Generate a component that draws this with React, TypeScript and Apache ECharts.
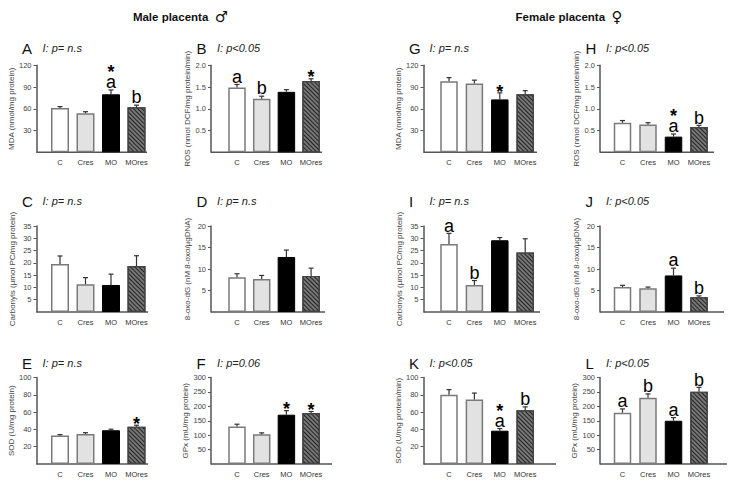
import React, { useEffect, useRef } from "react";
import * as echarts from "echarts";

// ---------- data ----------
const categories = ["C", "Cres", "MO", "MOres"];

const mdaMale = [61, 54, 80, 62];
const mdaMaleErr = [2, 2, 6, 3];
const mdaMaleMarks = ["", "", "*a", "b"];

const rosMale = [1.49, 1.23, 1.39, 1.64];
const rosMaleErr = [0.07, 0.06, 0.05, 0.05];
const rosMaleMarks = ["a", "b", "", "*"];

const carbMale = [19.5, 11.3, 11, 18.7];
const carbMaleErr = [3.3, 2.7, 4.4, 4.2];
const carbMaleMarks = ["", "", "", ""];

const oxoMale = [8.1, 7.7, 12.8, 8.4];
const oxoMaleErr = [0.8, 0.8, 1.6, 1.8];
const oxoMaleMarks = ["", "", "", ""];

const sodMale = [33, 34.7, 39, 43];
const sodMaleErr = [1, 1.5, 1.2, 1.8];
const sodMaleMarks = ["", "", "", "*"];

const gpxMale = [130, 103, 171, 177];
const gpxMaleErr = [8, 5, 14, 5];
const gpxMaleMarks = ["", "", "*", "*"];

const mdaFemale = [98, 95, 73, 80];
const mdaFemaleErr = [5, 4.5, 9, 5];
const mdaFemaleMarks = ["", "", "*", ""];

const rosFemale = [0.68, 0.64, 0.36, 0.58];
const rosFemaleErr = [0.05, 0.04, 0.06, 0.04];
const rosFemaleMarks = ["", "", "*a", "b"];

const carbFemale = [27.7, 11, 29.2, 24.2];
const carbFemaleErr = [4.3, 1.8, 1.1, 5.6];
const carbFemaleMarks = ["a", "b", "", ""];

const oxoFemale = [5.8, 5.5, 8.5, 3.45];
const oxoFemaleErr = [0.4, 0.3, 1.7, 0.3];
const oxoFemaleMarks = ["", "", "a", "b"];

const sodFemale = [80, 74.5, 38.5, 62];
const sodFemaleErr = [6, 7.5, 2.5, 4];
const sodFemaleMarks = ["", "", "*a", "b"];

const gpxFemale = [178, 230, 150, 251];
const gpxFemaleErr = [13, 13, 11, 15];
const gpxFemaleMarks = ["a", "b", "a", "b"];

const panels = [
  { id: "A", values: mdaMale, errors: mdaMaleErr, marks: mdaMaleMarks, max: 120, step: 30, yName: "MDA (nmol/mg protein)", stat: "I: p= n.s" },
  { id: "B", values: rosMale, errors: rosMaleErr, marks: rosMaleMarks, max: 2, step: 0.5, yName: "ROS (nmol DCF/mg protein/min)", stat: "I: p<0.05" },
  { id: "C", values: carbMale, errors: carbMaleErr, marks: carbMaleMarks, max: 35, step: 5, yName: "Carbonyls (µmol PC/mg protein)", stat: "I: p= n.s" },
  { id: "D", values: oxoMale, errors: oxoMaleErr, marks: oxoMaleMarks, max: 20, step: 5, yName: "8-oxo-dG (nM 8-oxo/µgDNA)", stat: "I: p= n.s" },
  { id: "E", values: sodMale, errors: sodMaleErr, marks: sodMaleMarks, max: 100, step: 20, yName: "SOD (U/mg protein)", stat: "I: p= n.s" },
  { id: "F", values: gpxMale, errors: gpxMaleErr, marks: gpxMaleMarks, max: 300, step: 50, yName: "GPx (mU/mg protein)", stat: "I: p=0.06" },
  { id: "G", values: mdaFemale, errors: mdaFemaleErr, marks: mdaFemaleMarks, max: 120, step: 30, yName: "MDA (nmol/mg protein)", stat: "I: p= n.s" },
  { id: "H", values: rosFemale, errors: rosFemaleErr, marks: rosFemaleMarks, max: 2, step: 0.5, yName: "ROS (nmol DCF/mg protein/min)", stat: "I: p<0.05" },
  { id: "I", values: carbFemale, errors: carbFemaleErr, marks: carbFemaleMarks, max: 35, step: 5, yName: "Carbonyls (µmol PC/mg protein)", stat: "I: p= n.s" },
  { id: "J", values: oxoFemale, errors: oxoFemaleErr, marks: oxoFemaleMarks, max: 20, step: 5, yName: "8-oxo-dG (nM 8-oxo/µgDNA)", stat: "I: p<0.05" },
  { id: "K", values: sodFemale, errors: sodFemaleErr, marks: sodFemaleMarks, max: 100, step: 20, yName: "SOD (U/mg protein/min)", stat: "I: p<0.05" },
  { id: "L", values: gpxFemale, errors: gpxFemaleErr, marks: gpxFemaleMarks, max: 300, step: 50, yName: "GPx (mU/mg protein)", stat: "I: p<0.05" },
];

const titleMale = "Male placenta";
const symbolMale = "♂";
const titleFemale = "Female placenta";
const symbolFemale = "♀";

// ---------- layout ----------
const panelPos: Record<string, [number, number]> = {
  A: [0, 0], B: [1, 0], C: [0, 1], D: [1, 1], E: [0, 2], F: [1, 2],
  G: [2, 0], H: [3, 0], I: [2, 1], J: [3, 1], K: [2, 2], L: [3, 2],
};
const colGeom = [
  { ax: 36.5, c0: 60, pitch: 25.5, bw: 18 },
  { ax: 211, c0: 237, pitch: 24.7, bw: 17.5 },
  { ax: 423.5, c0: 449, pitch: 25.4, bw: 17.5 },
  { ax: 600, c0: 622.5, pitch: 25.5, bw: 17.5 },
];
const rowGeom = [
  { top: 65.3, bottom: 152.3, label: 48 },
  { top: 226, bottom: 312, label: 201 },
  { top: 377.5, bottom: 464, label: 363 },
];
const axisEnd: Record<string, number> = {
  A: 147, B: 322, C: 148, D: 325, E: 148, F: 332,
  G: 537, H: 714, I: 540, J: 724, K: 556, L: 727,
};
const titlePos = [{ x: 180.5, y: 17 }, { x: 569, y: 17 }];

const FONT = '"Liberation Sans", Arial, "DejaVu Sans", sans-serif';
const AXIS = "#555";

const barStyles: any[] = [
  { color: "#ffffff", borderColor: "#7a7a7a", borderWidth: 1.5 },
  { color: "#e2e2e2", borderColor: "#7a7a7a", borderWidth: 1.5 },
  { color: "#000000", borderColor: "#000000", borderWidth: 1 },
  {
    color: "#777777",
    borderColor: "#444",
    borderWidth: 1.2,
    decal: {
      symbol: "rect",
      symbolSize: 1,
      color: "#222",
      dashArrayX: [1, 0],
      dashArrayY: [1, 2],
      rotation: Math.PI / 4,
    },
  },
];

function buildOption() {
  const grid: any[] = [];
  const xAxis: any[] = [];
  const yAxis: any[] = [];
  const series: any[] = [];
  const graphic: any[] = [];

  panels.forEach((p, i) => {
    const [c, r] = panelPos[p.id];
    const cg = colGeom[c];
    const rg = rowGeom[r];
    const left = cg.c0 - cg.pitch / 2;
    grid.push({
      left,
      top: rg.top,
      width: cg.pitch * 4,
      height: rg.bottom - rg.top,
      containLabel: false,
    });
    xAxis.push({
      gridIndex: i,
      type: "category",
      data: categories,
      axisLine: { show: false },
      axisTick: { show: false },
      axisLabel: { fontSize: 7.5, color: "#333", margin: 6, interval: 0, fontFamily: FONT },
    });
    yAxis.push({
      gridIndex: i,
      type: "value",
      min: 0,
      max: p.max,
      interval: p.step,
      offset: left - cg.ax,
      axisLine: { show: true, lineStyle: { color: AXIS, width: 1.5 } },
      axisTick: { show: true, length: 3, lineStyle: { color: AXIS, width: 1 } },
      splitLine: { show: false },
      axisLabel: {
        fontSize: 7.5,
        color: "#444",
        margin: 5,
        showMinLabel: false,
        fontFamily: FONT,
        formatter: p.step < 1 ? (v: number) => v.toFixed(1) : (v: number) => String(v),
      },
      name: p.yName,
      nameLocation: "middle",
      nameGap: 20,
      nameTextStyle: { fontSize: 8, color: "#444", fontFamily: FONT },
    });
    series.push({
      type: "bar",
      xAxisIndex: i,
      yAxisIndex: i,
      barWidth: cg.bw,
      data: p.values.map((v, k) => ({ value: v, itemStyle: barStyles[k] })),
    });
    const marks = p.marks;
    series.push({
      type: "custom",
      xAxisIndex: i,
      yAxisIndex: i,
      z: 5,
      data: p.values.map((v, k) => [k, v, p.errors[k]]),
      encode: { x: 0, y: [1, 2] },
      renderItem: (params: any, api: any) => {
        const idx = api.value(0);
        const v = api.value(1);
        const e = api.value(2);
        const base = api.coord([idx, v]);
        const top = api.coord([idx, v + e]);
        const x = base[0];
        const ty = top[1];
        const children: any[] = [
          { type: "line", shape: { x1: x, y1: base[1], x2: x, y2: ty }, style: { stroke: "#333", lineWidth: 1.2 } },
          { type: "line", shape: { x1: x - 2.5, y1: ty, x2: x + 2.5, y2: ty }, style: { stroke: "#333", lineWidth: 1.2 } },
        ];
        const m = marks[params.dataIndex] || "";
        const letter = m.replace("*", "");
        const star = m.indexOf("*") >= 0;
        if (letter) {
          children.push({
            type: "text",
            style: { text: letter, x, y: ty - 7.8, fill: "#000", font: `18px ${FONT}`, align: "center", verticalAlign: "middle" },
          });
        }
        if (star) {
          const cy = letter ? ty - 17.8 : ty - 1.3;
          children.push({
            type: "text",
            style: { text: "*", x, y: cy, fill: "#000", font: `bold 18px ${FONT}`, align: "center", verticalAlign: "middle" },
          });
        }
        return { type: "group", children };
      },
    });
    graphic.push({
      type: "line",
      shape: { x1: cg.ax, y1: rg.bottom, x2: axisEnd[p.id], y2: rg.bottom },
      style: { stroke: AXIS, lineWidth: 1.5 },
    });
    graphic.push({
      type: "text",
      x: cg.ax - 14.5,
      y: rg.label,
      style: { text: p.id, font: `15px ${FONT}`, fill: "#111", align: "left", verticalAlign: "middle" },
    });
    graphic.push({
      type: "text",
      x: cg.ax + 6,
      y: rg.label,
      style: { text: p.stat, font: `italic 11px ${FONT}`, fill: "#222", align: "left", verticalAlign: "middle" },
    });
  });

  const titleRich = {
    t: { fontSize: 11.5, fontWeight: "bold", fontFamily: FONT, fill: "#111" },
    s: { fontSize: 15, fontFamily: '"DejaVu Sans", sans-serif', fill: "#111" },
  };
  graphic.push({
    type: "text",
    x: titlePos[0].x,
    y: titlePos[0].y,
    style: {
      text: `{t|${titleMale}}  {s|${symbolMale}}`,
      rich: titleRich,
      font: `bold 11.5px ${FONT}`,
      fill: "#111",
      align: "center",
      verticalAlign: "middle",
    },
  });
  graphic.push({
    type: "text",
    x: titlePos[1].x,
    y: titlePos[1].y,
    style: {
      text: `{t|${titleFemale}}  {s|${symbolFemale}}`,
      rich: titleRich,
      font: `bold 11.5px ${FONT}`,
      fill: "#111",
      align: "center",
      verticalAlign: "middle",
    },
  });

  return {
    animation: false,
    backgroundColor: "#ffffff",
    textStyle: { fontFamily: FONT },
    grid,
    xAxis,
    yAxis,
    series,
    graphic,
  };
}

export default function App() {
  const ref = useRef<HTMLDivElement>(null);
  useEffect(() => {
    document.body.style.margin = "0";
    if (!ref.current) return;
    const chart = echarts.init(ref.current, undefined, { renderer: "svg" });
    chart.setOption(buildOption() as any);
    return () => chart.dispose();
  }, []);
  return <div ref={ref} style={{ width: 729, height: 483 }} />;
}
